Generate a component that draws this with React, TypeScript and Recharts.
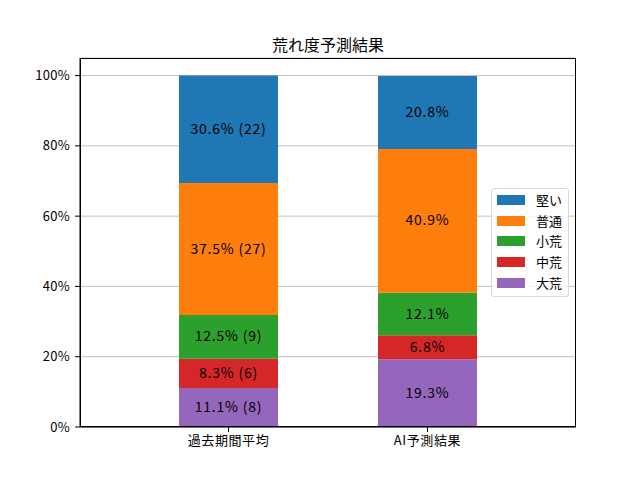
import React from "react";
import {
  BarChart, Bar, XAxis, YAxis, CartesianGrid, LabelList,
} from "recharts";

const FONT = "'Noto Sans CJK JP', 'DejaVu Sans', sans-serif";

const CATEGORIES = ["過去期間平均", "AI予測結果"];
const SERIES = ["大荒", "中荒", "小荒", "普通", "堅い"];
const COLORS = ["#9467bd", "#d62728", "#2ca02c", "#ff7f0e", "#1f77b4"];

// percentages per category, bottom (大荒) to top (堅い)
const PAST_PCT = [11.1, 8.3, 12.5, 37.5, 30.6];
const AI_PCT = [19.3, 6.8, 12.1, 40.9, 20.8];
// race counts, past period only
const PAST_COUNT = [8, 6, 9, 27, 22];

const Y_TICKS = [0, 20, 40, 60, 80, 100];

const data = CATEGORIES.map((name, ci) => {
  const row: Record<string, string | number | null> = { name };
  SERIES.forEach((s, si) => {
    row[s] = ci === 0 ? PAST_PCT[si] : AI_PCT[si];
    row[`${s}_n`] = ci === 0 ? PAST_COUNT[si] : null;
  });
  return row;
});

/** "30.6% (22)" in the middle of a segment */
function makeLabel(series: string) {
  return (props: any) => {
    const { x, y, width, height, index } = props;
    const row = data[index];
    const pct = Number(row[series]).toFixed(1);
    const n = row[`${series}_n`];
    const text = n != null ? `${pct}% (${n})` : `${pct}%`;
    return (
      <text
        x={Number(x) + Number(width) / 2}
        y={Number(y) + Number(height) / 2 - 1.5}
        textAnchor="middle"
        dominantBaseline="central"
        fontSize={14}
        letterSpacing={0.8}
        fontFamily={FONT}
        fill="#000"
      >
        {text}
      </text>
    );
  };
}

function LegendBox() {
  const items = SERIES.map((s, i) => ({ s, c: COLORS[i] })).reverse();
  return (
    <div
      style={{
        position: "absolute", left: 491, top: 188, width: 78, height: 109,
        border: "1px solid #d9d9d9", borderRadius: 3, background: "rgba(255,255,255,0.8)",
        boxSizing: "border-box", paddingTop: 1, fontFamily: FONT, fontSize: 13,
      }}
    >
      {items.map(({ s, c }) => (
        <div key={s} style={{ display: "flex", alignItems: "center", height: 20.6, overflow: "hidden" }}>
          <div style={{ width: 28, height: 10, background: c, marginLeft: 5 }} />
          <span style={{ marginLeft: 11, color: "#000", lineHeight: "16px" }}>{s}</span>
        </div>
      ))}
    </div>
  );
}

export default function App() {
  return (
    <div style={{ position: "fixed", left: 0, top: 0, width: 640, height: 480, background: "#fff" }}>
      <div
        style={{
          position: "absolute", left: 80, width: 496, top: 33, textAlign: "center",
          fontFamily: FONT, fontSize: 16, color: "#000", lineHeight: "22px",
        }}
      >
        荒れ度予測結果
      </div>
      <BarChart
        width={640}
        height={480}
        data={data}
        margin={{ top: 58, right: 64, bottom: 23, left: 20 }}
        barSize={99}
      >
        <CartesianGrid vertical={false} stroke="#b0b0b0" strokeWidth={0.8} />
        <XAxis
          dataKey="name"
          padding={{ left: 49, right: 49 }}
          height={30}
          stroke="#000"
          tickSize={5}
          tickMargin={4}
          tick={{ fill: "#000", fontSize: 13, fontFamily: FONT, letterSpacing: 0.6 }}
          interval={0}
        />
        <YAxis
          domain={[0, 105]}
          ticks={Y_TICKS}
          tickFormatter={(v) => `${v}%`}
          width={60}
          stroke="#000"
          tickSize={5}
          tickMargin={5}
          tick={{ fill: "#000", fontSize: 13, fontFamily: FONT, letterSpacing: 0.3 }}
          allowDataOverflow
        />
        {SERIES.map((s, i) => (
          <Bar key={s} dataKey={s} stackId="a" fill={COLORS[i]} isAnimationActive={false}>
            <LabelList dataKey={s} content={makeLabel(s)} />
          </Bar>
        ))}
      </BarChart>
      {/* axes frame (matplotlib spines) */}
      <div
        style={{
          position: "absolute", left: 80, top: 58, width: 496, height: 369,
          border: "1px solid #000", boxSizing: "border-box", pointerEvents: "none",
        }}
      />
      <LegendBox />
    </div>
  );
}
